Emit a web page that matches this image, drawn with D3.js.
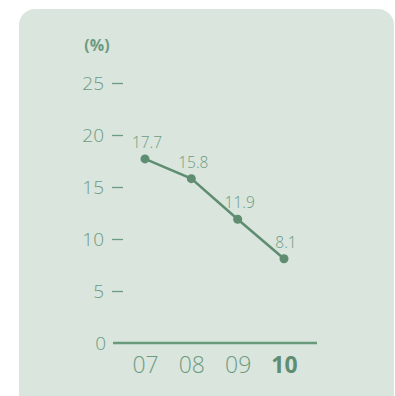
<!DOCTYPE html>
<html lang="en">
<head>
  <meta charset="UTF-8" />
  <title>Rate (%)</title>
  <script src="https://d3js.org/d3.v7.min.js"></script>
  <style>
    body { margin: 0; background: #fff; }
    svg { display: block; font-family: "Open Sans", sans-serif; }
  </style>
</head>
<body>
  <svg width="395" height="396"></svg>

  <script>
    // data
    const years = ["07", "08", "09", "10"];
    const values = [17.7, 15.8, 11.9, 8.1];
    const yTicks = [0, 5, 10, 15, 20, 25];
    const unitLabel = "(%)";

    const svg = d3.select("svg");
    const textColor = "#6e9b80";
    const lineColor = "#5f8d71";

    // panel background, rounded, runs off the bottom a bit
    svg.append("rect")
      .attr("x", 19).attr("y", 9)
      .attr("width", 375).attr("height", 400)
      .attr("rx", 16)
      .attr("fill", "#d9e5dd");

    const x = d3.scalePoint()
      .domain(years)
      .range([145, 284]);

    const y = d3.scaleLinear()
      .domain([0, 25])
      .range([343, 83]);

    // unit label
    svg.append("text")
      .attr("x", 97).attr("y", 45)
      .attr("text-anchor", "middle")
      .attr("dominant-baseline", "central")
      .attr("font-size", 16)
      .attr("font-weight", "bold")
      .attr("fill", textColor)
      .text(unitLabel);

    // y axis: numbers plus a short dash (no dash at 0, the baseline takes over)
    const yAxis = d3.axisLeft(y)
      .tickValues(yTicks)
      .tickSize(0)
      .tickPadding(0)
      .tickFormat(d => d);

    const gy = svg.append("g")
      .attr("transform", "translate(104,0)")
      .call(yAxis);
    gy.select(".domain").remove();
    gy.selectAll(".tick text")
      .attr("font-size", 19)
      .attr("font-weight", 300)
      .attr("fill", textColor)
      .attr("font-family", "'Open Sans', sans-serif")
      .attr("dx", d => d === 0 ? 2 : 0);
    gy.selectAll(".tick")
      .filter(d => d !== 0)
      .append("line")
      .attr("x1", 8).attr("x2", 19)
      .attr("stroke", textColor)
      .attr("stroke-width", 1.3);

    // baseline
    svg.append("line")
      .attr("x1", 113).attr("x2", 317)
      .attr("y1", y(0)).attr("y2", y(0))
      .attr("stroke", "#6a9a7c")
      .attr("stroke-width", 2.6);

    // x axis labels
    const xAxis = d3.axisBottom(x).tickSize(0).tickPadding(0);
    const gx = svg.append("g")
      .attr("transform", "translate(0,357)")
      .call(xAxis);
    gx.select(".domain").remove();
    gx.selectAll(".tick text")
      .attr("font-size", 23)
      .attr("font-family", "'Open Sans', sans-serif")
      .attr("font-weight", d => d === years[years.length - 1] ? "bold" : 300)
      .attr("fill", d => d === years[years.length - 1] ? lineColor : textColor);

    const pts = years.map((yr, i) => ({ yr, v: values[i] }));

    // line
    svg.append("path")
      .datum(pts)
      .attr("fill", "none")
      .attr("stroke", lineColor)
      .attr("stroke-width", 2.5)
      .attr("d", d3.line()
        .x(d => x(d.yr))
        .y(d => y(d.v))
      );

    // dots
    svg.selectAll(".dot")
      .data(pts)
      .enter().append("circle")
      .attr("class", "dot")
      .attr("cx", d => x(d.yr))
      .attr("cy", d => y(d.v))
      .attr("r", 4.5)
      .attr("fill", lineColor);

    // value labels
    svg.selectAll(".val")
      .data(pts)
      .enter().append("text")
      .attr("class", "val")
      .attr("x", d => x(d.yr) + 2)
      .attr("y", d => y(d.v) - 17)
      .attr("text-anchor", "middle")
      .attr("dominant-baseline", "central")
      .attr("font-size", 15.5)
      .attr("font-weight", 300)
      .attr("fill", textColor)
      .text(d => d.v);
  </script>
</body>
</html>
